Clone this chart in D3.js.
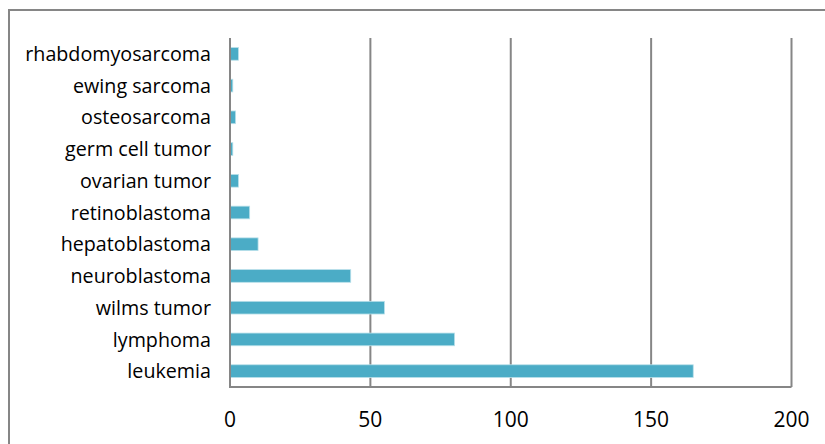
<!DOCTYPE html>
<html>
<head>
<meta charset="utf-8">
<script src="https://cdn.jsdelivr.net/npm/d3@7"></script>
<style>
  html, body { margin: 0; padding: 0; background: #fff; }
  svg { display: block; }
  text { font-family: "Open Sans", sans-serif; fill: #000; }
</style>
</head>
<body>
<svg id="chart" width="825" height="444"></svg>
<script>
// Childhood cancer cases by type (top to bottom as drawn)
const categories = [
  "rhabdomyosarcoma", "ewing sarcoma", "osteosarcoma", "germ cell tumor",
  "ovarian tumor", "retinoblastoma", "hepatoblastoma", "neuroblastoma",
  "wilms tumor", "lymphoma", "leukemia"
];
const values = [3, 1, 2, 1, 3, 7, 10, 43, 55, 80, 165];
const xTicks = [0, 50, 100, 150, 200];

const svg = d3.select("#chart");
const plot = { left: 230, right: 791.5, top: 38, bottom: 387 };

const x = d3.scaleLinear().domain([0, 200]).range([plot.left, plot.right]);
const y = d3.scaleBand().domain(categories).range([plot.top, plot.bottom]).paddingInner(0.6).paddingOuter(0.3);

// Chart frame
svg.append("path")
  .attr("d", "M9,444 L9,10 L825,10")
  .attr("fill", "none").attr("stroke", "#868686").attr("stroke-width", 2);

// Vertical gridlines
svg.append("g").selectAll("line")
  .data(xTicks.filter(d => d > 0))
  .join("line")
  .attr("x1", d => x(d)).attr("x2", d => x(d))
  .attr("y1", plot.top).attr("y2", plot.bottom)
  .attr("stroke", "#868686").attr("stroke-width", 2);

// Bars
svg.append("g").selectAll("rect")
  .data(categories.map((c, i) => ({ c, v: values[i] })))
  .join("rect")
  .attr("x", x(0))
  .attr("y", d => y(d.c))
  .attr("width", d => x(d.v) - x(0))
  .attr("height", y.bandwidth())
  .attr("fill", "#4BACC6")
  .attr("stroke", "#b9e0ea").attr("stroke-width", 0.8);

// Axes lines (left and bottom)
svg.append("path")
  .attr("d", `M${x(0)},${plot.top} L${x(0)},${plot.bottom} L${plot.right},${plot.bottom}`)
  .attr("fill", "none").attr("stroke", "#868686").attr("stroke-width", 2);

// Category labels
svg.append("g").selectAll("text")
  .data(categories)
  .join("text")
  .attr("x", 211)
  .attr("y", d => y(d) + y.bandwidth() / 2)
  .attr("dy", "0.36em")
  .attr("text-anchor", "end")
  .attr("font-size", 19.7)
  .text(d => d);

// X tick labels
svg.append("g").selectAll("text")
  .data(xTicks)
  .join("text")
  .attr("x", d => x(d))
  .attr("y", 427)
  .attr("text-anchor", "middle")
  .attr("font-size", 21)
  .text(d => d);
</script>
</body>
</html>
